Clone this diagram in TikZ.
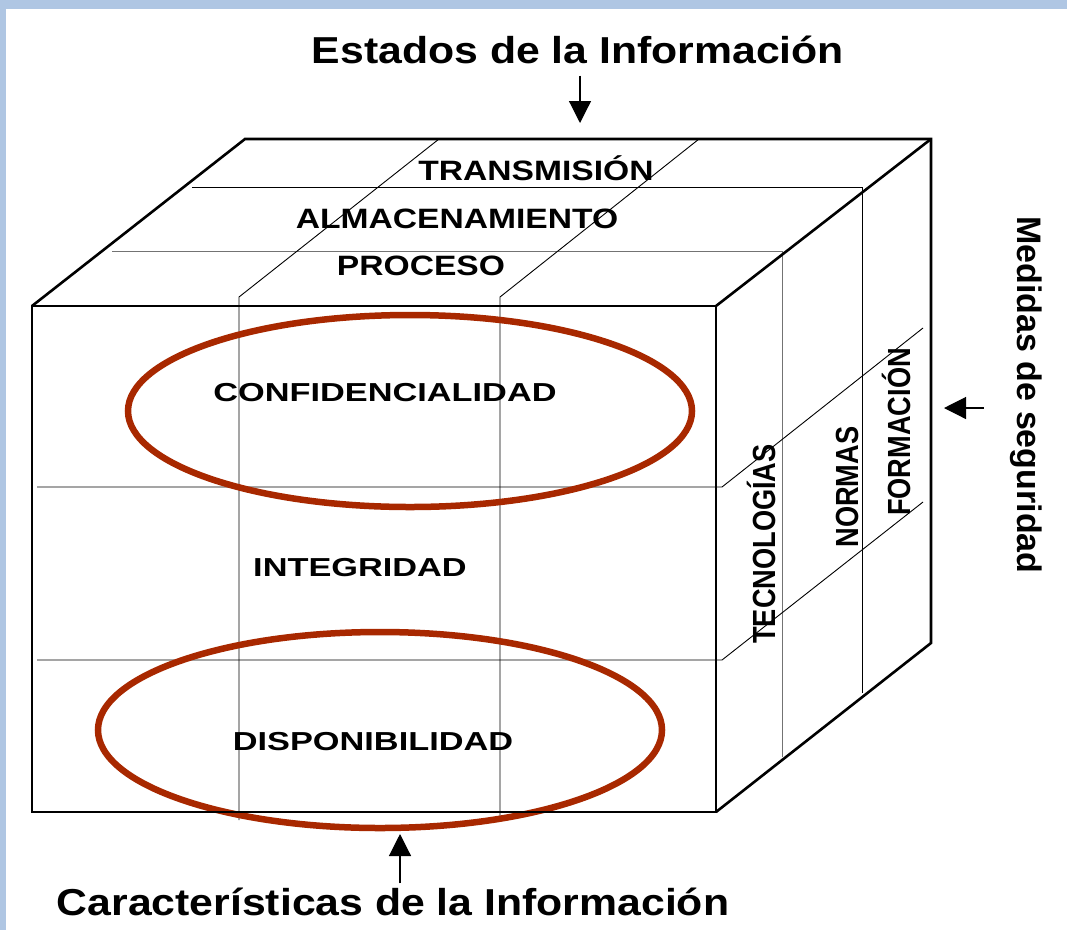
\documentclass[tikz,border=0pt]{standalone}
\usepackage{fontspec}
\setmainfont{Liberation Sans}
\newfontfamily\titulofont{Liberation Sans}[FakeStretch=1.14]
\newfontfamily\estadofont{Liberation Sans}[FakeStretch=1.2]
\newfontfamily\caractfont{Liberation Sans}[FakeStretch=1.32]
\newfontfamily\medidafont{Liberation Sans}[FakeStretch=0.85]
\usetikzlibrary{positioning, arrows.meta}
\definecolor{marcoazul}{RGB}{175, 198, 227}
\definecolor{elipsered}{RGB}{168, 40, 0}

\begin{document}
\begin{tikzpicture}[x=1pt, y=-1pt,
        borde/.style={line width=2.6pt, line join=miter},
        fina/.style={line width=0.9pt},
        elipse/.style={draw=elipsered, line width=6.5pt},
        flecha/.style={-{Triangle[length=22pt, width=22pt]}, line width=1.2pt},
        rotulo/.style={inner sep=0pt, anchor=base}]
    \useasboundingbox (0,0) rectangle (1067,930);
    \fill[marcoazul] (0,0) rectangle (1067,9);
    \fill[marcoazul] (0,0) rectangle (6,930);

    % divisiones del cubo
    \draw[fina, black!55] (112,251) -- (782,251) -- (782,757);
    \draw[fina] (192,187) -- (862,187) -- (862,693);
    \draw[fina] (239,820) -- (239,297) -- (439,139);
    \draw[fina] (500,820) -- (500,297) -- (699,139);
    \draw[fina] (37,487) -- (722,487) -- (923,328);
    \draw[fina] (37,660) -- (722,660) -- (923,502);

    \draw[elipse] (410,411) ellipse [x radius=282pt, y radius=96pt];
    \draw[elipse] (380,730) ellipse [x radius=282pt, y radius=98pt];

    % contorno
    \draw[borde] (32,306) rectangle (716,812);
    \draw[borde] (32,306) -- (245,139) -- (931,139) -- (931,643) -- (716,812);
    \draw[borde] (716,306) -- (931,139);

    \node[rotulo, font=\titulofont\bfseries\fontsize{37.5}{40}\selectfont] (estados) at (578,63) {Estados de la Información};
    \node[rotulo, font=\titulofont\bfseries\fontsize{37.5}{40}\selectfont] (caract) at (393,915) {Características de la Información};
    \node[rotulo, rotate=-90, font=\bfseries\fontsize{34}{36}\selectfont] (medidas) at (1017,395) {Medidas de seguridad};

    \node[rotulo, font=\estadofont\bfseries\fontsize{28}{30}\selectfont] (transmision) at (536,180) {TRANSMISIÓN};
    \node[rotulo, font=\estadofont\bfseries\fontsize{28}{30}\selectfont] (almacen) at (457,228) {ALMACENAMIENTO};
    \node[rotulo, font=\estadofont\bfseries\fontsize{28}{30}\selectfont] (proceso) at (421,275) {PROCESO};

    \node[rotulo, font=\caractfont\bfseries\fontsize{26}{28}\selectfont] (confid) at (385,401) {CONFIDENCIALIDAD};
    \node[rotulo, font=\caractfont\bfseries\fontsize{26}{28}\selectfont] (integ) at (360,576) {INTEGRIDAD};
    \node[rotulo, font=\caractfont\bfseries\fontsize{26}{28}\selectfont] (dispon) at (373,750) {DISPONIBILIDAD};

    \node[rotulo, rotate=90, font=\medidafont\bfseries\fontsize{32}{34}\selectfont] (tecno) at (775,544) {TECNOLOGÍAS};
    \node[rotulo, rotate=90, font=\medidafont\bfseries\fontsize{32}{34}\selectfont] (normas) at (858,487) {NORMAS};
    \node[rotulo, rotate=90, font=\medidafont\bfseries\fontsize{32}{34}\selectfont] (formacion) at (910,432) {FORMACIÓN};

    % flechas
    \coordinate (estPunta) at (580,123);
    \coordinate (carPunta) at (400,834);
    \coordinate (medPunta) at (944,408);
    \draw[flecha, shorten <=12pt] (estados.south -| estPunta) -- (estPunta);
    \draw[flecha, shorten <=4pt] (caract.north -| carPunta) -- (carPunta);
    \draw[flecha, shorten <=26pt] (medidas.south |- medPunta) -- (medPunta);
\end{tikzpicture}
\end{document}
